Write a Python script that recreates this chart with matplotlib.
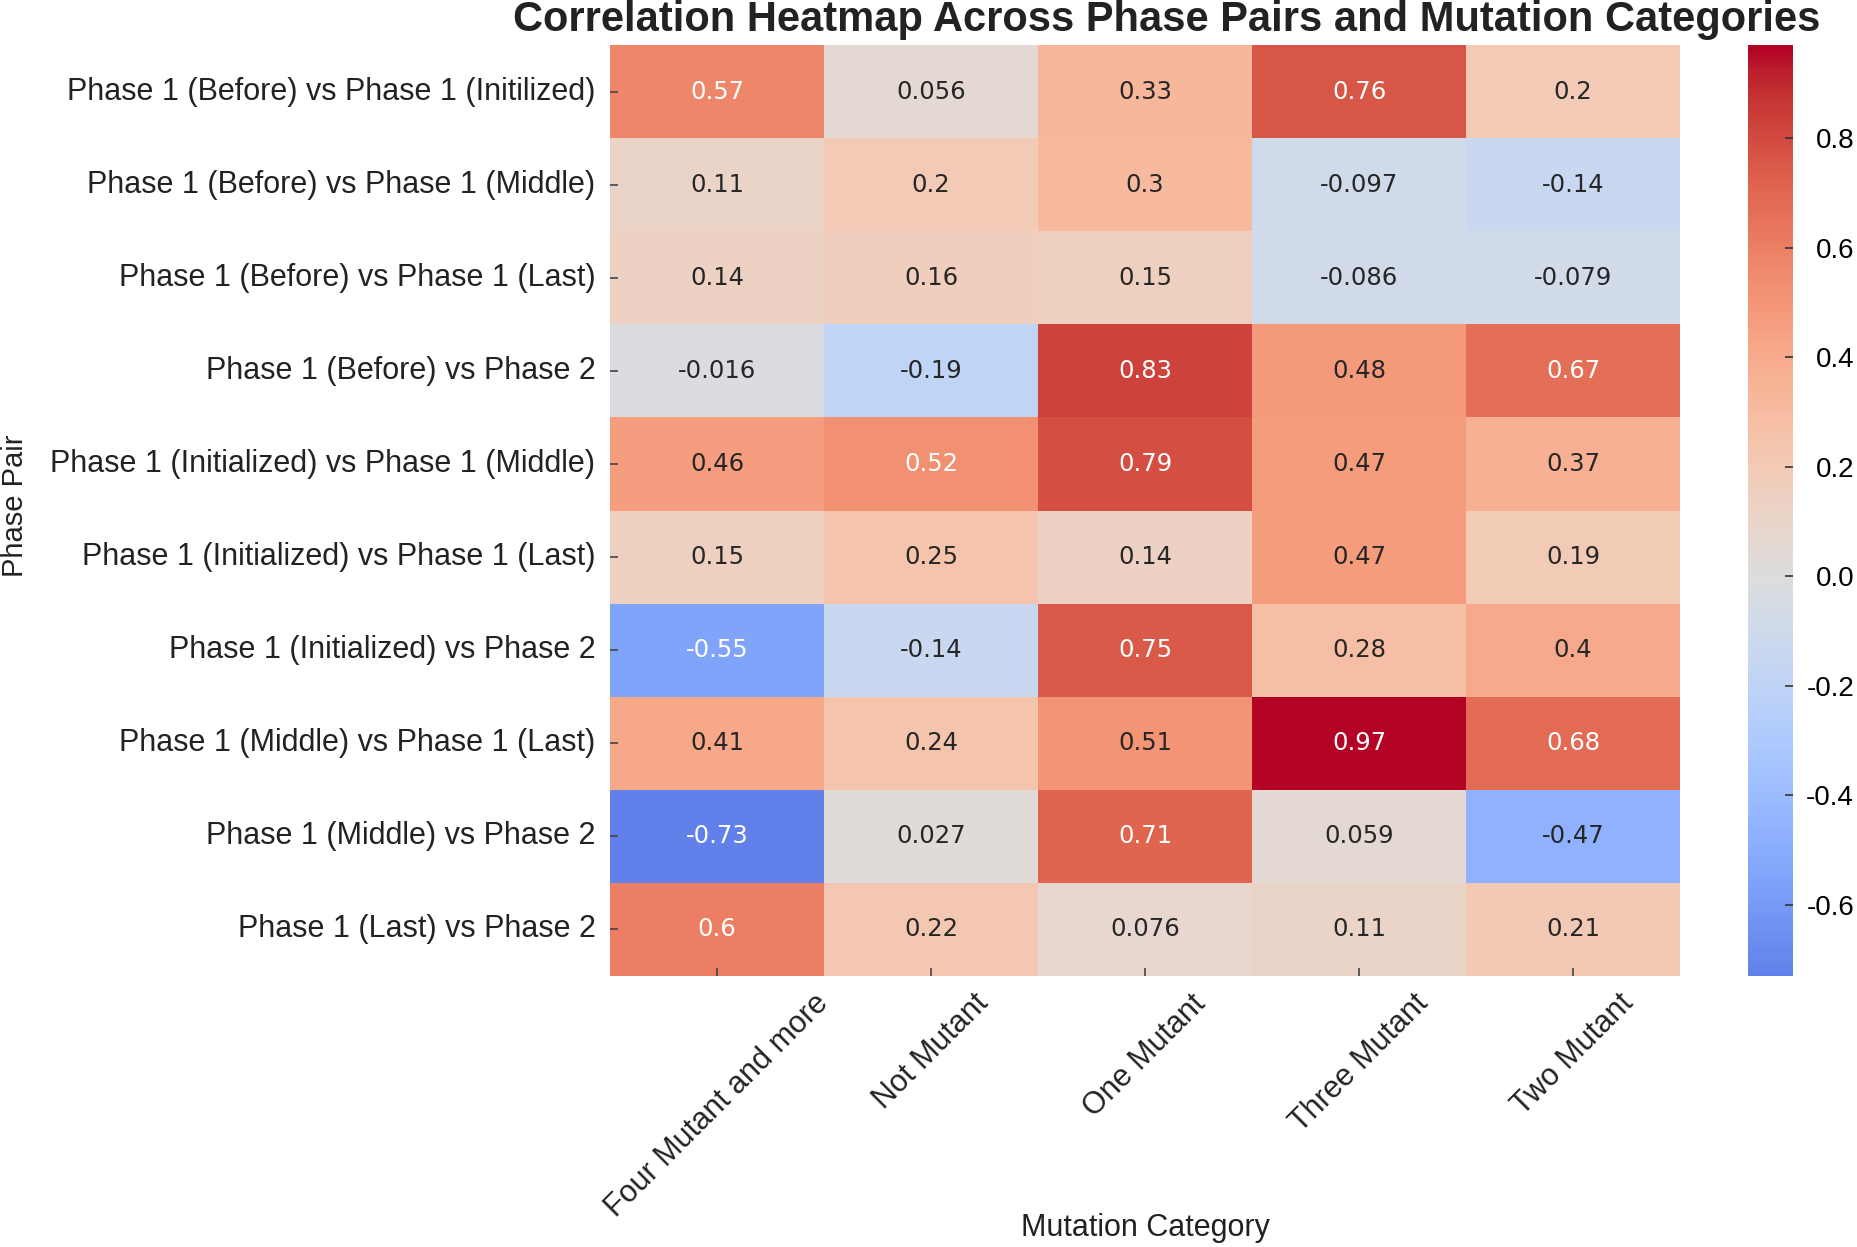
import numpy as np
import matplotlib
matplotlib.use('Agg')
import matplotlib.pyplot as plt
import seaborn as sns

plt.rcParams['axes.unicode_minus'] = False
plt.rcParams['font.family'] = ['Liberation Sans', 'DejaVu Sans']

phase_pairs = [
    'Phase 1 (Before) vs Phase 1 (Initilized)',
    'Phase 1 (Before) vs Phase 1 (Middle)',
    'Phase 1 (Before) vs Phase 1 (Last)',
    'Phase 1 (Before) vs Phase 2',
    'Phase 1 (Initialized) vs Phase 1 (Middle)',
    'Phase 1 (Initialized) vs Phase 1 (Last)',
    'Phase 1 (Initialized) vs Phase 2',
    'Phase 1 (Middle) vs Phase 1 (Last)',
    'Phase 1 (Middle) vs Phase 2',
    'Phase 1 (Last) vs Phase 2',
]
categories = ['Four Mutant and more', 'Not Mutant', 'One Mutant', 'Three Mutant', 'Two Mutant']

four_mutant = [0.57, 0.11, 0.14, -0.016, 0.46, 0.15, -0.55, 0.41, -0.73, 0.6]
not_mutant = [0.056, 0.2, 0.16, -0.19, 0.52, 0.25, -0.14, 0.24, 0.027, 0.22]
one_mutant = [0.33, 0.3, 0.15, 0.83, 0.79, 0.14, 0.75, 0.51, 0.71, 0.076]
three_mutant = [0.76, -0.097, -0.086, 0.48, 0.47, 0.47, 0.28, 0.97, 0.059, 0.11]
two_mutant = [0.2, -0.14, -0.079, 0.67, 0.37, 0.19, 0.4, 0.68, -0.47, 0.21]

corr = np.column_stack([four_mutant, not_mutant, one_mutant, three_mutant, two_mutant])

fig = plt.figure(figsize=(18.58, 12.47), dpi=100)
ax = fig.add_axes([0.3283, 0.2173, 0.576, 0.7466])
cax = fig.add_axes([0.9408, 0.2173, 0.0242, 0.7466])

# centred at 0 like the original heatmap
sns.heatmap(corr, ax=ax, cbar_ax=cax, cmap='coolwarm', center=0, annot=True,
            annot_kws={'fontsize': 17.5, 'family': 'DejaVu Sans'},
            xticklabels=categories, yticklabels=phase_pairs)

ax.tick_params(axis='both', direction='in', length=6, width=1.2, color='#444444', pad=10.5)
ax.tick_params(axis='x', pad=9)
ax.set_xticklabels(categories, rotation=45, ha='center', fontsize=22, color='#222222')
ax.set_yticklabels(phase_pairs, rotation=0, fontsize=22, color='#222222')
ax.set_xlabel('Mutation Category', fontsize=22, color='#222222')
ax.set_ylabel('Phase Pair', fontsize=21, color='#222222')
ax.xaxis.set_label_coords(0.5, -0.255)
ax.yaxis.set_label_coords(-0.543, 0.505)

cax.tick_params(labelsize=20, direction='in', length=6, width=1.2, color='#333333', pad=44)
for t in cax.get_yticklabels():
    t.set_horizontalalignment('right')

fig.text(0.628, 0.975, 'Correlation Heatmap Across Phase Pairs and Mutation Categories',
         ha='center', va='baseline', fontsize=30, fontweight='bold', color='#222222')

fig.savefig('out.png', dpi=100)
